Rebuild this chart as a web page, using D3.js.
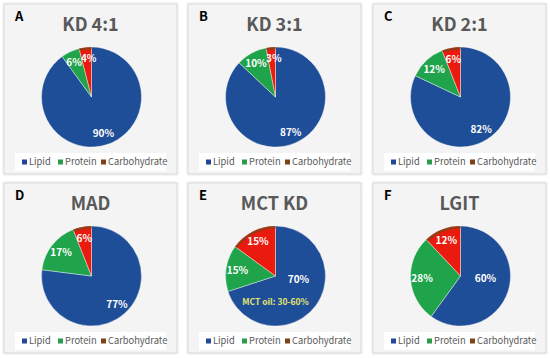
<!DOCTYPE html>
<meta charset="utf-8">
<title>Diet composition pies</title>
<style>
  body { margin: 0; background: #fff; }
  svg { display: block; }
</style>
<body>
<div id="viz"></div>
<script src="https://cdnjs.cloudflare.com/ajax/libs/d3/7.8.5/d3.min.js"></script>
<script>

// data
var panelLetters = ["A", "B", "C", "D", "E", "F"];
var diets = ["KD 4:1", "KD 3:1", "KD 2:1", "MAD", "MCT KD", "LGIT"];
var nutrients = ["Lipid", "Protein", "Carbohydrate"];
var lipid = [90, 87, 82, 77, 70, 60];
var protein = [6, 10, 12, 17, 15, 28];
var carbohydrate = [4, 3, 6, 6, 15, 12];
var notes = ["", "", "", "", "MCT oil: 30-60%", ""];

var width = 550;
var height = 358;

var sliceColor = d3.scaleOrdinal()
  .domain(nutrients)
  .range(["#1f4e98", "#1fa34b", "#ea1a0e"]);
var legendColor = d3.scaleOrdinal()
  .domain(nutrients)
  .range(["#23479a", "#2b9a4a", "#7e4316"]);

var font = "'Noto Sans CJK KR', 'Open Sans', sans-serif";

var svg = d3.select("#viz")
  .append("svg")
  .attr("width", width)
  .attr("height", height);

var defs = svg.append("defs");
var shadow = defs.append("filter").attr("id", "shadow")
  .attr("x", "-10%").attr("y", "-10%").attr("width", "120%").attr("height", "120%");
shadow.append("feDropShadow")
  .attr("dx", 0).attr("dy", 0).attr("stdDeviation", 1.2)
  .attr("flood-color", "#000").attr("flood-opacity", 0.18);

var colX = [4, 188, 373];
var rowY = [4, 183];
var panelW = 173, panelH = 170;
var R = 50;

var pie = d3.pie().sort(null).value(function(d) { return d.value; });
var arc = d3.arc().innerRadius(0).outerRadius(R);
var edgeArc = d3.arc().innerRadius(R - 2.5).outerRadius(R);
var labelArc = d3.arc().innerRadius(R * 0.77).outerRadius(R * 0.77);

// hand-placed lipid labels (as in the original)
var lipidLabelAt = { 4: [23, 3], 5: [25, 2] };

diets.forEach(function(name, i) {
  var px = colX[i % 3], py = rowY[Math.floor(i / 3)];
  var g = svg.append("g").attr("transform", "translate(" + px + "," + py + ")");

  g.append("rect")
    .attr("width", panelW).attr("height", panelH)
    .attr("fill", "#f4f4f4")
    .attr("stroke", "#d9d9d9").attr("stroke-width", 1)
    .attr("filter", "url(#shadow)");

  g.append("text")
    .attr("x", 11).attr("y", 17)
    .attr("font-family", font).attr("font-weight", "bold")
    .attr("font-size", 13).attr("fill", "#000")
    .text(panelLetters[i]);

  g.append("text")
    .attr("x", panelW / 2).attr("y", 27)
    .attr("text-anchor", "middle")
    .attr("font-family", font).attr("font-weight", "bold")
    .attr("font-size", 18).attr("fill", "#595959")
    .text(name);

  var data = [
    { key: nutrients[0], value: lipid[i] },
    { key: nutrients[1], value: protein[i] },
    { key: nutrients[2], value: carbohydrate[i] }
  ];

  var cg = g.append("g").attr("transform", "translate(" + (panelW / 2 + 1) + "," + 93 + ")");
  var arcs = pie(data);

  cg.selectAll("path.slice")
    .data(arcs)
    .enter().append("path")
    .attr("class", "slice")
    .attr("d", arc)
    .attr("fill", function(d) { return sliceColor(d.data.key); })
    .attr("stroke", "#fff").attr("stroke-width", 0.4);

  // thin brown rim on the carbohydrate slice
  cg.append("path")
    .attr("d", edgeArc(arcs[2]))
    .attr("fill", legendColor(nutrients[2]))
    .attr("opacity", 0.8);

  cg.selectAll("text.pct")
    .data(arcs)
    .enter().append("text")
    .attr("class", "pct")
    .attr("transform", function(d, j) {
      if (j == 0 && lipidLabelAt[i]) return "translate(" + lipidLabelAt[i] + ")";
      var c = labelArc.centroid(d);
      // small slices: keep the two labels apart
      if (j == 2 && d.data.value < 5) c[0] += 2;
      if (j == 1 && d.data.value <= 10) c[0] -= 1;
      return "translate(" + c + ")";
    })
    .attr("text-anchor", "middle").attr("dy", "0.36em")
    .attr("font-family", font).attr("font-weight", "bold")
    .attr("font-size", 10).attr("fill", "#fff")
    .text(function(d) { return d.data.value + "%"; });

  if (notes[i]) {
    cg.append("text")
      .attr("x", 0).attr("y", 26).attr("dy", "0.35em")
      .attr("text-anchor", "middle")
      .attr("font-family", font).attr("font-weight", "bold")
      .attr("font-size", 8.5).attr("fill", "#e4e46e")
      .text(notes[i]);
  }

  // legend
  var lg = g.append("g").attr("transform", "translate(0," + 158 + ")");
  lg.append("rect")
    .attr("x", 11).attr("y", -9).attr("width", 151).attr("height", 18)
    .attr("fill", "#fff");
  var offs = [18, 54, 97];
  nutrients.forEach(function(n, k) {
    lg.append("rect")
      .attr("x", offs[k]).attr("y", -2.5).attr("width", 5).attr("height", 5)
      .attr("fill", legendColor(n));
    lg.append("text")
      .attr("x", offs[k] + 7).attr("y", 0).attr("dy", "0.36em")
      .attr("font-family", font).attr("font-size", 9.3).attr("fill", "#595959")
      .text(n);
  });
});

</script>
</body>
